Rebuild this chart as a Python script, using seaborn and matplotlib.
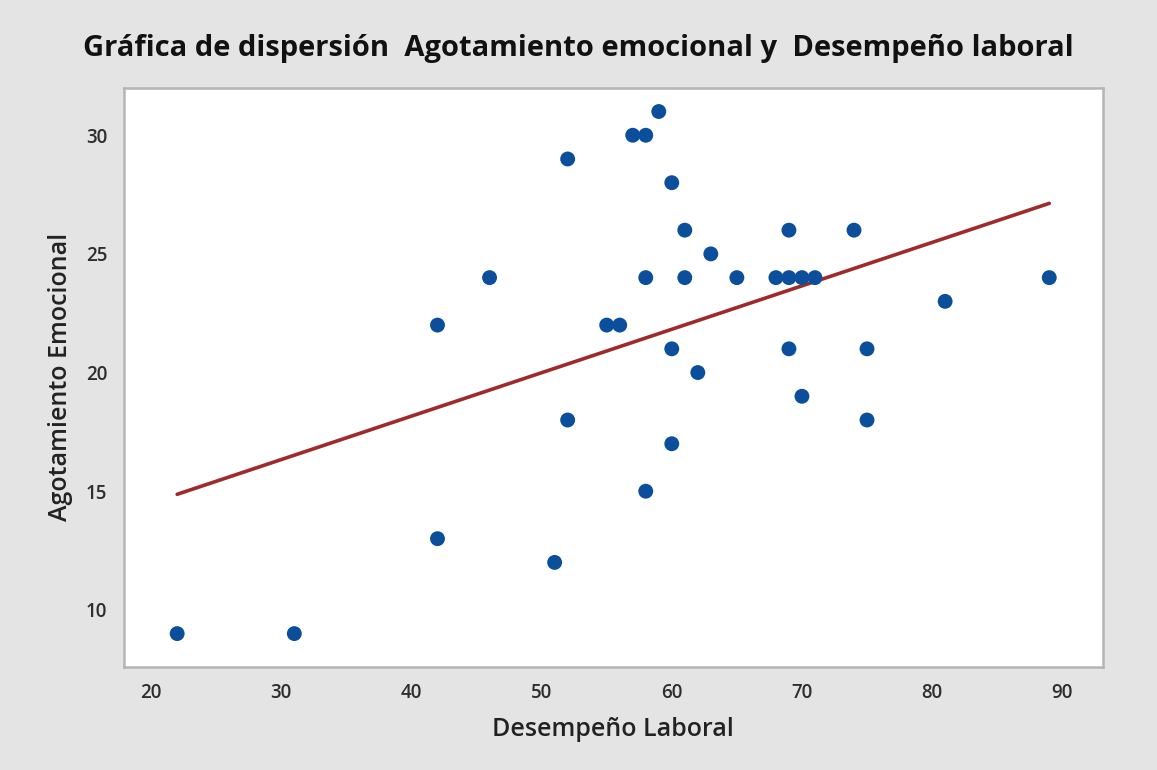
import seaborn as sns
import matplotlib.pyplot as plt
import pandas as pd

# Desempeño laboral vs agotamiento emocional
desempeno = [22, 31, 42, 42, 46, 51, 52, 52, 55, 56, 57, 58, 58, 58, 59, 60, 60, 60,
             61, 61, 62, 63, 65, 68, 69, 69, 69, 70, 70, 71, 74, 75, 75, 81, 89]
agotamiento = [9, 9, 22, 13, 24, 12, 29, 18, 22, 22, 30, 30, 24, 15, 31, 28, 21, 17,
               26, 24, 20, 25, 24, 24, 26, 24, 21, 24, 19, 24, 26, 21, 18, 23, 24]

# fitted line as drawn in the original (end points)
fit_x = [22, 89]
fit_y = [14.87, 27.13]

x_ticks = [20, 30, 40, 50, 60, 70, 80, 90]
y_ticks = [10, 15, 20, 25, 30]

df = pd.DataFrame({'Desempeño Laboral': desempeno, 'Agotamiento Emocional': agotamiento})
fit = pd.DataFrame({'x': fit_x, 'y': fit_y})

sns.set_theme(style='white')
plt.rcParams['font.family'] = ['Open Sans', 'DejaVu Sans']

bg = '#e4e4e4'
fig = plt.figure(figsize=(11.57, 7.70), dpi=100, facecolor=bg)
ax = fig.add_axes([0.107, 0.134, 0.846, 0.752])
ax.set_facecolor('white')

sns.lineplot(data=fit, x='x', y='y', color='#9e2a2b', linewidth=2.6, ax=ax, zorder=2)
sns.scatterplot(data=df, x='Desempeño Laboral', y='Agotamiento Emocional', color='#0b4f9c',
                s=115, edgecolor='none', ax=ax, zorder=3)

ax.set_xlim(17.9, 93.1)
ax.set_ylim(7.6, 32.0)
ax.set_xticks(x_ticks)
ax.set_yticks(y_ticks)
ax.tick_params(axis='both', which='major', length=5, width=1, color='#b5b5b5',
               labelsize=13.5, labelcolor='#2e2e2e', pad=7, direction='out')
for lab in ax.get_xticklabels() + ax.get_yticklabels():
    lab.set_fontweight('semibold')
for sp in ax.spines.values():
    sp.set_color('#b5b5b5')
    sp.set_linewidth(1.8)

ax.set_xlabel('Desempeño Laboral', fontsize=18, fontweight='semibold', color='#222222', labelpad=10)
ax.set_ylabel('Agotamiento Emocional', fontsize=18, fontweight='semibold', color='#222222', labelpad=9)

fig.text(0.5, 0.937, 'Gráfica de dispersión  Agotamiento emocional y  Desempeño laboral',
         ha='center', va='center', fontsize=21, fontweight='bold', color='#111111')

fig.savefig('out.png', dpi=100, facecolor=bg)
